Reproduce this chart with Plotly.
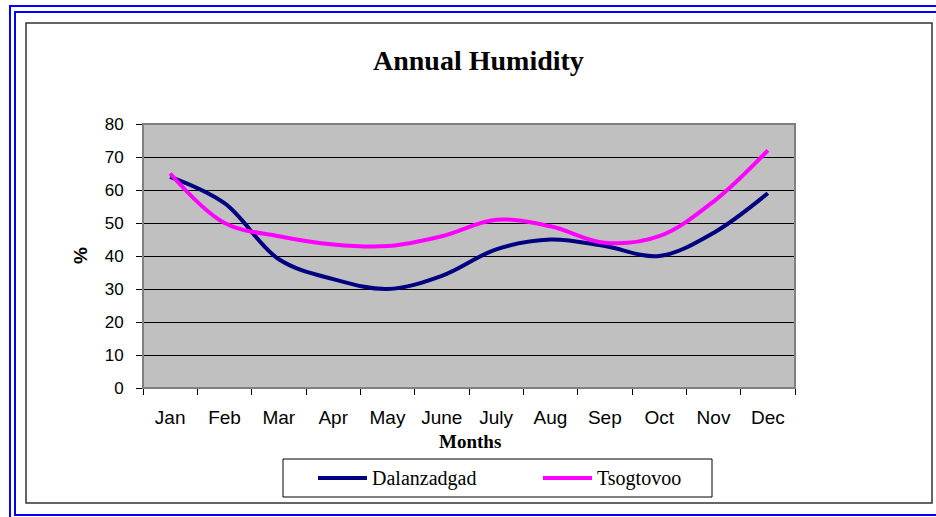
import plotly.graph_objects as go

W, H = 936, 517

months = ["Jan", "Feb", "Mar", "Apr", "May", "June", "July", "Aug", "Sep", "Oct", "Nov", "Dec"]
dalanzadgad = [64, 56, 39, 33, 30, 34, 42, 45, 43, 40, 47, 59]
tsogtovoo = [65, 50, 46, 43.5, 43, 46, 51, 49, 44, 46, 56.5, 72]
y_ticks = [0, 10, 20, 30, 40, 50, 60, 70, 80]

series_names = ["Dalanzadgad", "Tsogtovoo"]
series_colors = ["#000080", "#FF00FF"]

# pixel helpers (margins are zero, so paper coords == whole figure)
def px(x):
    return x / W

def py(y):
    return 1 - y / H

plot_l, plot_r, plot_t, plot_b = 143, 795, 124, 388

fig = go.Figure()

for name, vals, col in zip(series_names, [dalanzadgad, tsogtovoo], series_colors):
    fig.add_trace(go.Scatter(
        x=months, y=vals, name=name, mode="lines",
        line=dict(color=col, width=4, shape="spline", smoothing=1),
    ))

paper = dict(xref="paper", yref="paper")
shapes = [
    # outer blue double frame (right/bottom run off the page like the source)
    dict(type="rect", x0=px(10), y0=py(6), x1=px(960), y1=py(525),
         line=dict(color="#0000FF", width=2), **paper),
    dict(type="rect", x0=px(15), y0=py(12), x1=px(944), y1=py(515),
         line=dict(color="#0000FF", width=2), **paper),
    # black chart frame
    dict(type="rect", x0=px(26), y0=py(23), x1=px(932), y1=py(503),
         line=dict(color="#333333", width=1.5), **paper),
    # plot area border
    dict(type="rect", x0=px(plot_l), y0=py(plot_t), x1=px(plot_r), y1=py(plot_b),
         line=dict(color="#808080", width=2), **paper),
    # legend box
    dict(type="rect", x0=px(283), y0=py(459), x1=px(712), y1=py(497),
         line=dict(color="black", width=1), **paper),
]

annotations = [
    dict(text="<b>Annual Humidity</b>", x=px(479), y=py(60),
         showarrow=False, xanchor="center", yanchor="middle",
         font=dict(family="Liberation Serif", size=28, color="black"), **paper),
    dict(text="<b>Months</b>", x=px(470), y=py(441),
         showarrow=False, xanchor="center", yanchor="middle",
         font=dict(family="Liberation Serif", size=19, color="black"), **paper),
    dict(text="<b>%</b>", x=px(81), y=py(256),
         showarrow=False, xanchor="center", yanchor="middle", textangle=-90,
         font=dict(family="Liberation Sans", size=19, color="black"), **paper),
]

# hand-drawn legend entries, Excel style
for (x_line, x_text), name, col in zip([(318, 370), (543, 595)], series_names, series_colors):
    shapes.append(dict(type="line", x0=px(x_line), x1=px(x_line + 49), y0=py(478), y1=py(478),
                       line=dict(color=col, width=4), **paper))
    annotations.append(dict(text=name, x=px(x_text), y=py(478), showarrow=False,
                            xanchor="left", yanchor="middle",
                            font=dict(family="Liberation Serif", size=20, color="black"), **paper))

fig.update_layout(
    width=W, height=H,
    margin=dict(l=0, r=0, t=0, b=0, pad=0),
    paper_bgcolor="white",
    plot_bgcolor="#C0C0C0",
    shapes=shapes,
    annotations=annotations,
    showlegend=False,
    xaxis=dict(
        domain=[px(plot_l), px(plot_r)],
        type="category", range=[-0.5, 11.5], automargin=False,
        tickson="boundaries", ticks="outside", ticklen=6, tickcolor="black",
        showgrid=False, showline=True, linecolor="black", linewidth=1,
        tickfont=dict(family="Liberation Sans", size=19, color="black"),
        ticklabelstandoff=12,
    ),
    yaxis=dict(
        domain=[py(plot_b), py(plot_t)],
        range=[0, 80], tickvals=y_ticks, automargin=False,
        ticks="outside", ticklen=6, tickcolor="black",
        showgrid=True, gridcolor="black", gridwidth=1,
        showline=True, linecolor="black", linewidth=1,
        zeroline=False,
        tickfont=dict(family="Liberation Sans", size=17, color="black"),
        ticklabelstandoff=9,
    ),
)

# page body has a default margin; drop it so the figure sits at the window origin
fig.write_html("out.html", config={"displayModeBar": False},
               post_script="document.body.style.margin='0';document.body.style.overflow='hidden';")
